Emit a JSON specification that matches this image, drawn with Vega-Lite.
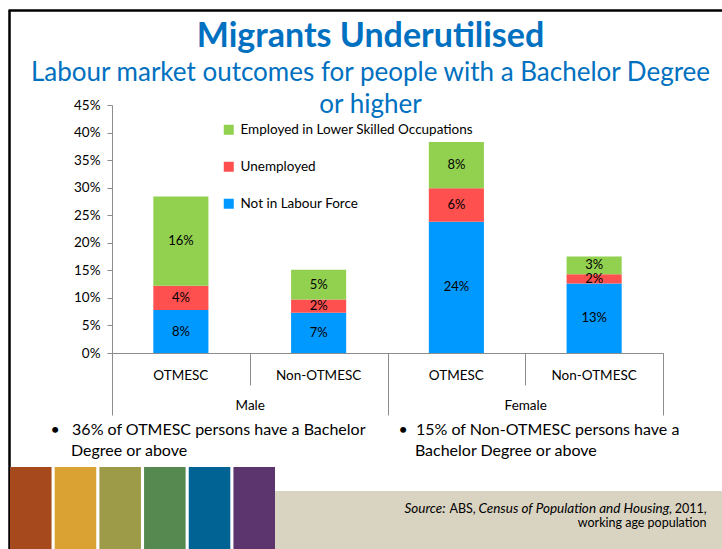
{
  "$schema": "https://vega.github.io/schema/vega-lite/v6.json",
  "width": 551,
  "height": 248,
  "autosize": {"type": "none"},
  "padding": {"left": 112, "top": 105, "right": 59, "bottom": 196},
  "background": "white",
  "config": {
    "font": "Lato",
    "view": {"stroke": null},
    "axis": {"labelFont": "Lato", "titleFont": "Lato", "grid": false}
  },
  "title": {
    "text": "Migrants Underutilised",
    "subtitle": ["Labour market outcomes for people with a Bachelor Degree", "or higher"],
    "anchor": "middle",
    "frame": "group",
    "dx": -17,
    "offset": -108,
    "font": "Lato",
    "fontSize": 34,
    "fontWeight": "bold",
    "color": "#0070C0",
    "subtitleFont": "Lato",
    "subtitleFontSize": 26,
    "subtitleColor": "#0070C0",
    "subtitleLineHeight": 32,
    "subtitlePadding": 6
  },
  "datasets": {
    "main": [
      {"sex": "Male", "group": "OTMESC", "cat": "Male|OTMESC", "series": "Not in Labour Force", "order": 1, "value": 0.078},
      {"sex": "Male", "group": "OTMESC", "cat": "Male|OTMESC", "series": "Unemployed", "order": 2, "value": 0.044},
      {"sex": "Male", "group": "OTMESC", "cat": "Male|OTMESC", "series": "Employed in Lower Skilled Occupations", "order": 3, "value": 0.162},
      {"sex": "Male", "group": "Non-OTMESC", "cat": "Male|Non-OTMESC", "series": "Not in Labour Force", "order": 1, "value": 0.073},
      {"sex": "Male", "group": "Non-OTMESC", "cat": "Male|Non-OTMESC", "series": "Unemployed", "order": 2, "value": 0.024},
      {"sex": "Male", "group": "Non-OTMESC", "cat": "Male|Non-OTMESC", "series": "Employed in Lower Skilled Occupations", "order": 3, "value": 0.054},
      {"sex": "Female", "group": "OTMESC", "cat": "Female|OTMESC", "series": "Not in Labour Force", "order": 1, "value": 0.238},
      {"sex": "Female", "group": "OTMESC", "cat": "Female|OTMESC", "series": "Unemployed", "order": 2, "value": 0.061},
      {"sex": "Female", "group": "OTMESC", "cat": "Female|OTMESC", "series": "Employed in Lower Skilled Occupations", "order": 3, "value": 0.084},
      {"sex": "Female", "group": "Non-OTMESC", "cat": "Female|Non-OTMESC", "series": "Not in Labour Force", "order": 1, "value": 0.126},
      {"sex": "Female", "group": "Non-OTMESC", "cat": "Female|Non-OTMESC", "series": "Unemployed", "order": 2, "value": 0.017},
      {"sex": "Female", "group": "Non-OTMESC", "cat": "Female|Non-OTMESC", "series": "Employed in Lower Skilled Occupations", "order": 3, "value": 0.032}
    ],
    "decor": [
      {"piece": "brown"}, {"piece": "orange"}, {"piece": "olive"},
      {"piece": "green"}, {"piece": "blue"}, {"piece": "purple"}
    ],
    "band": [{"piece": "band"}]
  },
  "layer": [
    {
      "data": {"name": "band"},
      "mark": {"type": "bar", "color": "#D9D3C1"},
      "encoding": {
        "x": {
          "field": "piece", "type": "nominal",
          "scale": {"range": [156, 610], "paddingInner": 0, "paddingOuter": 0},
          "axis": {
            "orient": "bottom", "labels": false, "ticks": false, "domain": false,
            "title": "Census of Population and Housing,",
            "titleX": 366, "titleY": 159, "titleAlign": "left", "titleAnchor": "start",
            "titleBaseline": "alphabetic", "titleFontSize": 13.5, "titleFontStyle": "italic",
            "titleFontWeight": "normal", "titleColor": "#000", "zindex": 3
          }
        },
        "y": {
          "datum": 1, "type": "quantitative",
          "scale": {"domain": [0, 1], "range": [444, 386]},
          "axis": {
            "orient": "left", "labels": false, "ticks": false, "domain": false,
            "title": "2011,", "titleAngle": 0,
            "titleX": 594, "titleY": 407, "titleAlign": "right", "titleAnchor": "start",
            "titleBaseline": "alphabetic", "titleFontSize": 12.5, "titleFontWeight": "normal",
            "titleColor": "#000", "zindex": 3
          }
        },
        "y2": {"datum": 0}
      }
    },
    {
      "data": {"name": "decor"},
      "mark": {"type": "bar"},
      "encoding": {
        "x": {
          "field": "piece", "type": "nominal", "sort": null,
          "scale": {"range": [-102, 163], "paddingInner": 0.07, "paddingOuter": 0},
          "axis": {
            "orient": "bottom", "labels": false, "ticks": false, "domain": false,
            "title": "Source:",
            "titleX": 292, "titleY": 159, "titleAlign": "left", "titleAnchor": "start",
            "titleBaseline": "alphabetic", "titleFontSize": 13.5, "titleFontStyle": "italic",
            "titleFontWeight": "normal", "titleColor": "#000", "zindex": 3
          }
        },
        "y": {
          "datum": 1, "type": "quantitative",
          "scale": {"domain": [0, 1], "range": [444, 362]},
          "axis": {
            "orient": "left", "labels": false, "ticks": false, "domain": false,
            "title": "ABS,", "titleAngle": 0,
            "titleX": 337, "titleY": 407, "titleAlign": "left", "titleAnchor": "start",
            "titleBaseline": "alphabetic", "titleFontSize": 12.5, "titleFontWeight": "normal",
            "titleColor": "#000", "zindex": 3
          }
        },
        "y2": {"datum": 0},
        "color": {
          "field": "piece", "type": "nominal",
          "scale": {
            "domain": ["brown", "orange", "olive", "green", "blue", "purple"],
            "range": ["#A64A1E", "#D9A233", "#9E9B48", "#55894F", "#006394", "#5D356E"]
          },
          "legend": null
        }
      }
    },
    {
      "data": {"name": "decor"},
      "mark": {"type": "point", "opacity": 0},
      "encoding": {
        "x": {
          "datum": 0, "type": "quantitative",
          "scale": {"domain": [0, 1], "range": [-104, 610]},
          "axis": {"orient": "top", "offset": 95, "labels": false, "ticks": false, "grid": false,
                   "domain": true, "domainColor": "#000", "domainWidth": 2.5, "title": null}
        },
        "y": {
          "datum": 0, "type": "quantitative",
          "scale": {"domain": [0, 1], "range": [444, -95]},
          "axis": {"orient": "left", "offset": 103, "labels": false, "ticks": false, "grid": false,
                   "domain": true, "domainColor": "#000", "domainWidth": 2.5, "title": null}
        }
      }
    },
    {
      "data": {"name": "main"},
      "transform": [
        {"stack": "value", "groupby": ["cat"], "sort": [{"field": "order", "order": "ascending"}], "as": ["y0", "y1"]}
      ],
      "mark": {"type": "bar"},
      "encoding": {
        "x": {
          "field": "cat", "type": "nominal",
          "sort": ["Male|OTMESC", "Male|Non-OTMESC", "Female|OTMESC", "Female|Non-OTMESC"],
          "scale": {"paddingInner": 0.6, "paddingOuter": 0.3},
          "axis": {
            "orient": "bottom", "ticks": false, "tickSize": 0,
            "labelPadding": 15.5, "labelFontSize": 13.5, "labelColor": "#000", "labelAngle": 0,
            "domainColor": "#8C8C8C", "labelExpr": "split(datum.label, '|')[1]",
            "title": "working age population",
            "titleX": 594, "titleY": 173.5, "titleAlign": "right", "titleAnchor": "start",
            "titleBaseline": "alphabetic", "titleFontSize": 12.5, "titleFontWeight": "normal",
            "titleColor": "#000", "zindex": 3
          }
        },
        "y": {
          "field": "y1", "type": "quantitative",
          "scale": {"domain": [0, 0.45], "nice": false},
          "axis": {
            "orient": "left", "title": null, "values": [0, 0.05, 0.1, 0.15, 0.2, 0.25, 0.3, 0.35, 0.4, 0.45],
            "format": ".0%", "labelFontSize": 13.5, "labelColor": "#000", "tickSize": 5,
            "tickColor": "#8C8C8C", "domainColor": "#8C8C8C", "labelPadding": 7
          }
        },
        "y2": {"field": "y0"},
        "color": {
          "field": "series", "type": "nominal",
          "scale": {
            "domain": ["Employed in Lower Skilled Occupations", "Unemployed", "Not in Labour Force"],
            "range": ["#92D050", "#FF5050", "#0099FF"]
          },
          "legend": {
            "orient": "none", "legendX": 110, "legendY": 18, "title": null,
            "symbolType": "square", "symbolSize": 100, "symbolStrokeWidth": 0,
            "labelFontSize": 13.5, "labelColor": "#000", "labelFont": "Lato", "labelLimit": 0,
            "rowPadding": 22, "labelOffset": 5
          }
        }
      }
    },
    {
      "data": {"name": "main"},
      "transform": [
        {"stack": "value", "groupby": ["cat"], "sort": [{"field": "order", "order": "ascending"}], "as": ["y0", "y1"]},
        {"fold": ["y0", "y1"], "as": ["end", "pos"]},
        {"aggregate": [{"op": "mean", "field": "pos", "as": "mid"}, {"op": "max", "field": "value", "as": "value"}], "groupby": ["cat", "series"]}
      ],
      "mark": {"type": "text", "fontSize": 13, "color": "#000", "font": "Lato"},
      "encoding": {
        "x": {
          "field": "cat", "type": "nominal",
          "sort": ["Male|OTMESC", "Male|Non-OTMESC", "Female|OTMESC", "Female|Non-OTMESC"],
          "scale": {"paddingInner": 0.6, "paddingOuter": 0.3},
          "axis": null
        },
        "y": {"field": "mid", "type": "quantitative", "scale": {"domain": [0, 0.45], "nice": false}, "axis": null},
        "text": {"field": "value", "type": "quantitative", "format": ".0%"}
      }
    },
    {
      "data": {"name": "main"},
      "mark": {"type": "point", "opacity": 0, "clip": true},
      "encoding": {
        "x": {
          "field": "value", "type": "quantitative",
          "scale": {"domain": [0, 4], "nice": false, "zero": false},
          "axis": {
            "orient": "bottom", "values": [0, 1, 2, 3, 4], "labels": false, "domain": false,
            "ticks": true, "tickSize": 32, "tickColor": "#8C8C8C",
            "title": ["•\u00a0\u00a0\u00a036% of OTMESC persons have a Bachelor", "\u200b\u00a0\u00a0\u00a0\u00a0\u00a0Degree or above"],
            "titleX": -62, "titleY": 81, "titleAlign": "left", "titleAnchor": "start",
            "titleBaseline": "alphabetic", "titleFontSize": 16, "titleFontWeight": "normal",
            "titleColor": "#000", "titleLineHeight": 21
          }
        }
      }
    },
    {
      "data": {"name": "main"},
      "mark": {"type": "point", "opacity": 0, "clip": true},
      "encoding": {
        "x": {
          "field": "value", "type": "quantitative",
          "scale": {"domain": [0, 4], "nice": false, "zero": false},
          "axis": {
            "orient": "bottom", "values": [0, 2, 4], "domain": false,
            "ticks": true, "tickSize": 62, "tickColor": "#8C8C8C",
            "labelExpr": "datum.value == 0 ? 'Male' : datum.value == 2 ? 'Female' : ''",
            "labelOffset": 137.75, "labelPadding": -16.5, "labelFontSize": 13.5, "labelColor": "#000",
            "labelOverlap": false, "labelFlush": false, "labelBound": false,
            "title": ["•\u00a0\u00a015% of Non-OTMESC persons have a", "\u200b\u00a0\u00a0\u00a0\u00a0Bachelor Degree or above"],
            "titleX": 286, "titleY": 81, "titleAlign": "left", "titleAnchor": "start",
            "titleBaseline": "alphabetic", "titleFontSize": 16, "titleFontWeight": "normal",
            "titleColor": "#000", "titleLineHeight": 21
          }
        }
      }
    }
  ],
  "resolve": {
    "scale": {"x": "independent", "y": "independent", "color": "independent"},
    "axis": {"x": "independent", "y": "independent"}
  }
}
